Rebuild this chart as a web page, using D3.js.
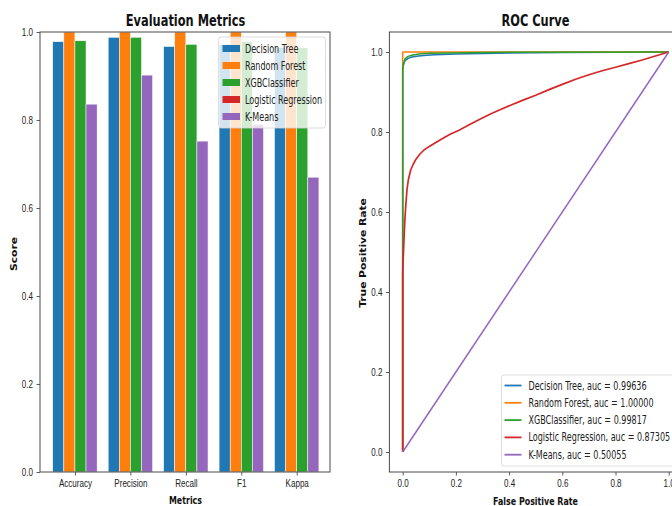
<!DOCTYPE html>
<html>
<head>
<meta charset="utf-8">
<script src="https://cdn.jsdelivr.net/npm/d3@7"></script>
<style>
  html, body { margin: 0; padding: 0; background: #fff; }
  svg { display: block; font-family: "DejaVu Sans", sans-serif; }
</style>
</head>
<body>
<svg id="chart" width="672" height="506"></svg>
<script>
// ---- bar chart data ----
const metrics = ["Accuracy", "Precision", "Recall", "F1", "Kappa"];
const models = ["Decision Tree", "Random Forest", "XGBClassifier", "Logistic Regression", "K-Means"];
const colors = ["#1f77b4", "#ff7f0e", "#2ca02c", "#d62728", "#9467bd"];
const dtScores  = [0.978, 0.988, 0.967, 0.972, 0.965];
const rfScores  = [1.000, 1.000, 1.000, 1.000, 1.000];
const xgbScores = [0.980, 0.988, 0.972, 0.978, 0.964];
const kmScores  = [0.836, 0.902, 0.752, 0.790, 0.670];
const scoreTicks = [0.0, 0.2, 0.4, 0.6, 0.8, 1.0];

// ---- ROC data: [false positive rate, true positive rate] ----
const dtRoc = [[0,0],[0,0.95],[0.002,0.965],[0.005,0.972],[0.009,0.979],[0.018,0.983],[0.027,0.986],[0.04,0.988],[0.059,0.990],[0.09,0.992],[0.12,0.993],[0.2,0.995],[0.35,0.997],[0.6,0.999],[1,1]];
const rfRoc = [[0,0],[0,1],[1,1]];
const xgbRoc = [[0,0],[0,0.96],[0.003,0.972],[0.009,0.983],[0.02,0.989],[0.034,0.992],[0.06,0.995],[0.1,0.997],[0.3,0.999],[1,1]];
const lrRoc = [[0,0],[0,0.45],[0.003,0.50],[0.006,0.55],[0.009,0.59],[0.012,0.62],[0.016,0.655],[0.021,0.68],[0.03,0.705],[0.04,0.72],[0.05,0.732],[0.065,0.745],[0.08,0.755],[0.1,0.764],[0.12,0.772],[0.15,0.784],[0.18,0.795],[0.21,0.804],[0.25,0.818],[0.29,0.832],[0.33,0.845],[0.37,0.857],[0.41,0.868],[0.45,0.879],[0.5,0.892],[0.55,0.906],[0.6,0.919],[0.65,0.932],[0.7,0.943],[0.75,0.953],[0.8,0.962],[0.85,0.971],[0.9,0.980],[0.95,0.990],[1,1]];
const kmRoc = [[0,0],[1,1]];
const rocLabels = ["Decision Tree, auc = 0.99636", "Random Forest, auc = 1.00000", "XGBClassifier, auc = 0.99817", "Logistic Regression, auc = 0.87305", "K-Means, auc = 0.50055"];
const rateTicks = [0.0, 0.2, 0.4, 0.6, 0.8, 1.0];

const svg = d3.select("#chart");
const SQ = 0.7;        // horizontal squeeze of tick and legend glyphs
const SQB = 0.74;      // squeeze for bold axis labels
const SQT = 0.76;      // squeeze for titles
const FS = "11.5px";
const spine = "#4a4a4a";
const tickColor = "#333";

function squeeze(sel, k) {
  sel.each(function () {
    const t = d3.select(this);
    const x = +t.attr("x") || 0;
    t.attr("transform", `translate(${x},0) scale(${k},1) translate(${-x},0)`);
  });
}

function styleAxis(g) {
  g.select(".domain").remove();
  g.selectAll(".tick line").attr("stroke", tickColor).attr("stroke-width", 0.8);
  g.selectAll(".tick text").attr("fill", "#222").style("font-size", FS);
  squeeze(g.selectAll(".tick text"), SQ);
}

// ================= Left: Evaluation Metrics =================
const L = { left: 40, right: 330, top: 32, bottom: 472 };
const xb = d3.scaleLinear().domain([-0.63, 4.6]).range([L.left, L.right]);
const yb = d3.scaleLinear().domain([0, 1]).range([L.bottom, L.top]);
const barW = 0.2;

const barSeries = [
  { values: dtScores, color: colors[0], offset: -1.5 },
  { values: rfScores, color: colors[1], offset: -0.5 },
  { values: xgbScores, color: colors[2], offset: 0.5 },
  { values: kmScores, color: colors[4], offset: 1.5 }
];

const bars = svg.append("g");
barSeries.forEach(s => {
  bars.selectAll(null).data(s.values).enter().append("rect")
    .attr("x", (d, i) => xb(i + (s.offset - 0.5) * barW))
    .attr("width", xb(barW) - xb(0))
    .attr("y", d => yb(d))
    .attr("height", d => yb(0) - yb(d))
    .attr("fill", s.color)
    .attr("stroke", "#fff").attr("stroke-width", 0.5);
});

const lyAxis = svg.append("g").attr("transform", `translate(${L.left},0)`)
  .call(d3.axisLeft(yb).tickValues(scoreTicks).tickFormat(d3.format(".1f")).tickSize(3.5).tickPadding(3.5));
styleAxis(lyAxis);
const lxAxis = svg.append("g").attr("transform", `translate(0,${L.bottom})`)
  .call(d3.axisBottom(xb).tickValues(d3.range(metrics.length)).tickFormat(i => metrics[i]).tickSize(3.5).tickPadding(3.5));
styleAxis(lxAxis);

svg.append("rect").attr("x", L.left).attr("y", L.top)
  .attr("width", L.right - L.left).attr("height", L.bottom - L.top)
  .attr("fill", "none").attr("stroke", spine).attr("stroke-width", 1);

// legend (left)
const lg = svg.append("g");
lg.append("rect").attr("x", 218.5).attr("y", 37).attr("width", 107).attr("height", 91)
  .attr("rx", 2.5).attr("fill", "#fff").attr("fill-opacity", 0.8)
  .attr("stroke", "#d6d6d6").attr("stroke-width", 0.8);
models.forEach((m, i) => {
  const cy = 48.5 + i * 17;
  lg.append("rect").attr("x", 222.5).attr("y", cy - 3.5).attr("width", 17.5).attr("height", 7)
    .attr("fill", colors[i]);
  lg.append("text").attr("x", 245).attr("y", cy + 4.1).text(m)
    .attr("fill", "#222").style("font-size", FS);
});
squeeze(lg.selectAll("text"), SQ);

// titles & labels (left)
const t1 = svg.append("text").attr("x", 185.5).attr("y", 26).attr("text-anchor", "middle")
  .style("font-size", "15px").style("font-weight", "bold").attr("fill", "#111").text("Evaluation Metrics");
squeeze(t1, SQT);
const xl1 = svg.append("text").attr("x", 185.5).attr("y", 504.5).attr("text-anchor", "middle")
  .style("font-size", "10.7px").style("font-weight", "bold").attr("fill", "#111").text("Metrics");
squeeze(xl1, SQB);
svg.append("text").attr("transform", `translate(16.5,254) scale(${SQB},1) rotate(-90)`)
  .attr("text-anchor", "middle").style("font-size", "10.7px").style("font-weight", "bold")
  .attr("fill", "#111").text("Score");

// ================= Right: ROC Curve =================
const R = { left: 389.4, right: 682, top: 32, bottom: 472 };
const xr = d3.scaleLinear().domain([-0.05, 1.05]).range([R.left, R.right]);
const yr = d3.scaleLinear().domain([-0.05, 1.05]).range([R.bottom, R.top]);

const line = d3.line().x(d => xr(d[0])).y(d => yr(d[1]));
const rocSets = [dtRoc, rfRoc, xgbRoc, lrRoc, kmRoc];
const curves = svg.append("g");
rocSets.forEach((pts, i) => {
  curves.append("path").attr("d", line(pts)).attr("fill", "none")
    .attr("stroke", colors[i]).attr("stroke-width", i === 3 ? 1.7 : 1.5).attr("stroke-linejoin", "round");
});

const ryAxis = svg.append("g").attr("transform", `translate(${R.left},0)`)
  .call(d3.axisLeft(yr).tickValues(rateTicks).tickFormat(d3.format(".1f")).tickSize(3.5).tickPadding(3.5));
styleAxis(ryAxis);
const rxAxis = svg.append("g").attr("transform", `translate(0,${R.bottom})`)
  .call(d3.axisBottom(xr).tickValues(rateTicks).tickFormat(d3.format(".1f")).tickSize(3.5).tickPadding(3.5));
styleAxis(rxAxis);

svg.append("rect").attr("x", R.left).attr("y", R.top)
  .attr("width", R.right - R.left).attr("height", R.bottom - R.top)
  .attr("fill", "none").attr("stroke", spine).attr("stroke-width", 1);

// legend (right)
const rg = svg.append("g");
rg.append("rect").attr("x", 501.5).attr("y", 375).attr("width", 200).attr("height", 91)
  .attr("rx", 2.5).attr("fill", "#fff").attr("fill-opacity", 0.8)
  .attr("stroke", "#d6d6d6").attr("stroke-width", 0.8);
rocLabels.forEach((lab, i) => {
  const cy = 385.5 + i * 17.3;
  rg.append("line").attr("x1", 504.5).attr("x2", 521.5).attr("y1", cy).attr("y2", cy)
    .attr("stroke", colors[i]).attr("stroke-width", 1.8);
  rg.append("text").attr("x", 528.5).attr("y", cy + 4.1).text(lab)
    .attr("fill", "#222").style("font-size", FS);
});
squeeze(rg.selectAll("text"), SQ);

const t2 = svg.append("text").attr("x", 535.5).attr("y", 26).attr("text-anchor", "middle")
  .style("font-size", "15px").style("font-weight", "bold").attr("fill", "#111").text("ROC Curve");
squeeze(t2, SQT);
const xl2 = svg.append("text").attr("x", 535.5).attr("y", 505).attr("text-anchor", "middle")
  .style("font-size", "10.7px").style("font-weight", "bold").attr("fill", "#111").text("False Positive Rate");
squeeze(xl2, SQB);
svg.append("text").attr("transform", `translate(365.5,253) scale(${SQB},1) rotate(-90)`)
  .attr("text-anchor", "middle").style("font-size", "10.7px").style("font-weight", "bold")
  .attr("fill", "#111").text("True Positive Rate");
</script>
</body>
</html>
